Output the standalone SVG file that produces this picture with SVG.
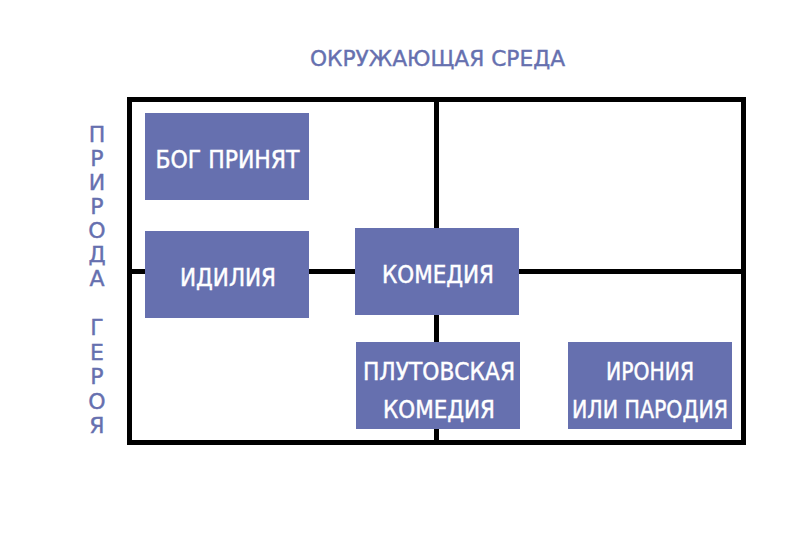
<svg xmlns="http://www.w3.org/2000/svg" width="800" height="533" viewBox="0 0 800 533">
  <style>
    .grid { fill: none; stroke: #000; stroke-width: 5; }
    .box { fill: #6670AF; }
    .lbl { fill: #fff; stroke: #fff; stroke-width: 0.5; font-family: "DejaVu Sans", sans-serif; font-size: 24px; text-anchor: middle; }
    .axis { fill: #6670AF; stroke: #6670AF; stroke-width: 0.4; font-family: "DejaVu Sans", sans-serif; font-size: 22px; text-anchor: middle; }
  </style>
  <rect width="800" height="533" fill="#fff"/>

  <!-- axis titles -->
  <text class="axis" x="437.5" y="66" font-size="21" textLength="255" lengthAdjust="spacingAndGlyphs">ОКРУЖАЮЩАЯ СРЕДА</text>
  <g class="axis">
    <text x="97" y="142">П</text>
    <text x="97" y="166">Р</text>
    <text x="97" y="190">И</text>
    <text x="97" y="214">Р</text>
    <text x="97" y="238">О</text>
    <text x="97" y="262">Д</text>
    <text x="97" y="286">А</text>
    <text x="97" y="335">Г</text>
    <text x="97" y="359.5">Е</text>
    <text x="97" y="384">Р</text>
    <text x="97" y="408.5">О</text>
    <text x="97" y="433">Я</text>
  </g>

  <!-- frame and quadrant dividers -->
  <g id="connectors">
    <rect class="grid" x="129.5" y="99.5" width="614" height="343"/>
    <line class="grid" x1="436.5" y1="99.5" x2="436.5" y2="442.5"/>
    <line class="grid" x1="129.5" y1="271.5" x2="743.5" y2="271.5"/>
  </g>

  <g id="bog-prinyat">
    <rect class="box" x="145" y="113" width="164" height="87"/>
    <text class="lbl" x="227.5" y="168" textLength="144" lengthAdjust="spacingAndGlyphs">БОГ ПРИНЯТ</text>
  </g>
  <g id="idiliya">
    <rect class="box" x="145" y="231" width="164" height="87"/>
    <text class="lbl" x="228" y="286" textLength="96" lengthAdjust="spacingAndGlyphs">ИДИЛИЯ</text>
  </g>
  <g id="komediya">
    <rect class="box" x="355" y="228" width="164" height="87"/>
    <text class="lbl" x="438" y="283" textLength="112" lengthAdjust="spacingAndGlyphs">КОМЕДИЯ</text>
  </g>
  <g id="plutovskaya">
    <rect class="box" x="356" y="342" width="164" height="87"/>
    <text class="lbl" x="439" y="380" textLength="152" lengthAdjust="spacingAndGlyphs">ПЛУТОВСКАЯ</text>
    <text class="lbl" x="439" y="418" textLength="112" lengthAdjust="spacingAndGlyphs">КОМЕДИЯ</text>
  </g>
  <g id="ironiya">
    <rect class="box" x="568" y="342" width="164" height="87"/>
    <text class="lbl" x="650" y="380" textLength="88" lengthAdjust="spacingAndGlyphs">ИРОНИЯ</text>
    <text class="lbl" x="650" y="418" textLength="156" lengthAdjust="spacingAndGlyphs">ИЛИ ПАРОДИЯ</text>
  </g>
</svg>
